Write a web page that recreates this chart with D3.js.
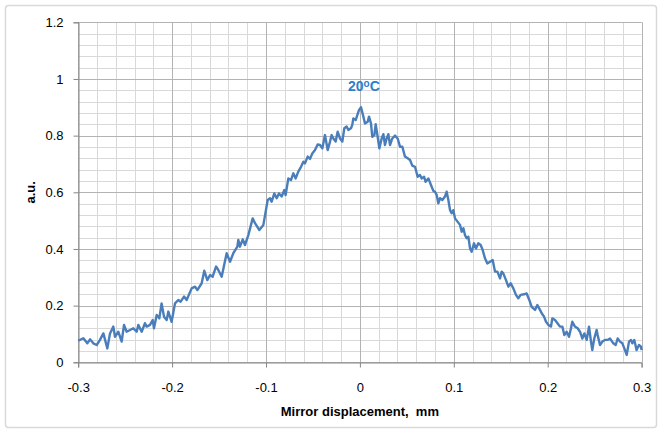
<!DOCTYPE html>
<html>
<head>
<meta charset="utf-8">
<script src="https://cdn.jsdelivr.net/npm/d3@7"></script>
<style>
  body { margin: 0; background: #fff; }
  text { font-family: "Liberation Sans", Arial, sans-serif; }
</style>
</head>
<body>
<div id="container"></div>
<script>
// tick labels
var xTicks = [-0.3, -0.2, -0.1, 0, 0.1, 0.2, 0.3];
var yTicks = [0, 0.2, 0.4, 0.6, 0.8, 1, 1.2];

// mirror displacement (mm)
var displacement = [
  -0.300, -0.2945, -0.2903, -0.2874, -0.2839, -0.2803, -0.2768, -0.2732, -0.2715, -0.2690,
  -0.2661, -0.2626, -0.2608, -0.2573, -0.2537, -0.2512, -0.2484, -0.2448, -0.2413, -0.2377,
  -0.2360, -0.2324, -0.2289, -0.2271, -0.2235, -0.2207, -0.2193, -0.2164, -0.2136, -0.2112,
  -0.2086, -0.2058, -0.2040, -0.2005,
  -0.1969, -0.1934, -0.1909, -0.1873, -0.1845, -0.1792, -0.1756, -0.1731, -0.1685, -0.1657,
  -0.1625, -0.1596, -0.1568, -0.1532, -0.1508, -0.1472, -0.1419, -0.1383, -0.1348, -0.1305,
  -0.1295, -0.1277, -0.1248, -0.1224, -0.1188, -0.1142, -0.1117, -0.1071, -0.1028,
  -0.0982, -0.0957, -0.0940, -0.0911, -0.0886, -0.0862, -0.0833, -0.0805, -0.0791, -0.0762,
  -0.0734, -0.0709, -0.0684, -0.0656, -0.0627, -0.0602, -0.0585, -0.0556, -0.0531, -0.0507,
  -0.0478, -0.0450, -0.0425, -0.0400, -0.0372, -0.0343, -0.0318, -0.0301, -0.0283, -0.0258,
  -0.0237, -0.0212, -0.0187, -0.0166, -0.0141, -0.0123, -0.0095, -0.0081, -0.0070, -0.0045,
  -0.0010, 0.0012, 0.0037, 0.0054, 0.0083, 0.0097, 0.0118, 0.0132, 0.0154, 0.0168,
  0.0189, 0.0207, 0.0232, 0.0250, 0.0267, 0.0285, 0.0303, 0.0321, 0.0345, 0.0374,
  0.0402, 0.0427, 0.0452, 0.0480, 0.0509, 0.0534, 0.0558, 0.0587, 0.0615, 0.0640,
  0.0658, 0.0683, 0.0700, 0.0729, 0.0757, 0.0782, 0.0800, 0.0818, 0.0835, 0.0853,
  0.0878, 0.0906, 0.0924, 0.0942, 0.0960, 0.0977, 0.0995, 0.1013,
  0.1066, 0.1084, 0.1102, 0.1119, 0.1137, 0.1155, 0.1173, 0.1190, 0.1215, 0.1236,
  0.1261, 0.1286, 0.1307, 0.1332, 0.1357, 0.1386, 0.1414, 0.1439, 0.1464, 0.1492,
  0.1510, 0.1527, 0.1556, 0.1581, 0.1606, 0.1634, 0.1662, 0.1687, 0.1712, 0.1748,
  0.1776, 0.1804, 0.1829, 0.1865, 0.1890, 0.1918, 0.1936, 0.1961, 0.1982, 0.2007,
  0.2035, 0.2049, 0.2078, 0.2106, 0.2131, 0.2156, 0.2177, 0.2202, 0.2227, 0.2248,
  0.2262, 0.2290, 0.2319, 0.2344, 0.2369, 0.2390, 0.2415, 0.2440, 0.2461, 0.2475,
  0.2496, 0.2521, 0.2532, 0.2557, 0.2582, 0.2610, 0.2638, 0.2663, 0.2699, 0.2724,
  0.2745, 0.2770, 0.2795, 0.2816, 0.2841, 0.2866, 0.2887, 0.2901, 0.2922, 0.2947,
  0.2972, 0.2993, 0.3000
];

// signal (a.u.)
var signal = [
  0.076, 0.085, 0.067, 0.081, 0.067, 0.061, 0.079, 0.102, 0.081, 0.049,
  0.102, 0.126, 0.090, 0.108, 0.073, 0.132, 0.108, 0.114, 0.120, 0.108,
  0.132, 0.108, 0.138, 0.126, 0.132, 0.149, 0.120, 0.167, 0.155, 0.208,
  0.161, 0.149, 0.179, 0.143,
  0.208, 0.220, 0.214, 0.232, 0.220, 0.261, 0.267, 0.255, 0.279, 0.323,
  0.290, 0.308, 0.302, 0.338, 0.326, 0.302, 0.385, 0.355, 0.385, 0.408,
  0.432, 0.408, 0.434, 0.414, 0.449, 0.508, 0.491, 0.467, 0.485,
  0.573, 0.579, 0.567, 0.596, 0.579, 0.596, 0.585, 0.608, 0.590, 0.649,
  0.643, 0.667, 0.649, 0.673, 0.690, 0.708, 0.702, 0.726, 0.718, 0.737,
  0.749, 0.769, 0.767, 0.755, 0.802, 0.749, 0.779, 0.802, 0.790, 0.779,
  0.814, 0.790, 0.779, 0.826, 0.832, 0.820, 0.826, 0.838, 0.861, 0.855,
  0.890, 0.900, 0.867, 0.843, 0.849, 0.867, 0.843, 0.796, 0.802, 0.840,
  0.796, 0.755, 0.790, 0.805, 0.767, 0.790, 0.805, 0.767, 0.790, 0.800,
  0.790, 0.761, 0.761, 0.726, 0.720, 0.714, 0.694, 0.690, 0.655, 0.661,
  0.649, 0.655, 0.637, 0.649, 0.626, 0.605, 0.602, 0.590, 0.561, 0.579,
  0.573, 0.585, 0.602, 0.573, 0.537, 0.526, 0.537, 0.508,
  0.485, 0.461, 0.473, 0.449, 0.438, 0.443, 0.402, 0.390, 0.420, 0.402,
  0.420, 0.414, 0.397, 0.367, 0.349, 0.355, 0.361, 0.320, 0.320, 0.296,
  0.320, 0.314, 0.290, 0.267, 0.279, 0.261, 0.238, 0.226, 0.238, 0.240,
  0.243, 0.220, 0.196, 0.185, 0.202, 0.185, 0.173, 0.161, 0.143, 0.132,
  0.126, 0.155, 0.149, 0.137, 0.126, 0.126, 0.096, 0.108, 0.090, 0.120,
  0.143, 0.126, 0.120, 0.108, 0.084, 0.102, 0.079, 0.126, 0.073, 0.043,
  0.084, 0.114, 0.096, 0.061, 0.073, 0.079, 0.079, 0.084, 0.067, 0.061,
  0.084, 0.073, 0.067, 0.049, 0.026, 0.073, 0.079, 0.067, 0.079, 0.043,
  0.061, 0.055, 0.043
];

var width = 663, height = 434;

var svg = d3.select("#container").append("svg")
  .attr("width", width)
  .attr("height", height);

// chart frame
svg.append("rect")
  .attr("x", 5.5).attr("y", 5.5)
  .attr("width", 651).attr("height", 422)
  .attr("rx", 3)
  .attr("fill", "#fff")
  .attr("stroke", "#d9d9d9")
  .attr("stroke-width", 1.5);

var x = d3.scaleLinear().domain([-0.3, 0.3]).range([78.2, 641.6]);
var y = d3.scaleLinear().domain([0, 1.2]).range([362.3, 22.3]);

// minor grid
var xMinor = d3.range(-15, 16).map(function (i) { return i * 0.02; });
var yMinor = d3.range(0, 31).map(function (i) { return i * 0.04; });

var grid = svg.append("g");
grid.selectAll(".xm").data(xMinor).enter().append("line")
  .attr("x1", function (d) { return Math.round(x(d)) + 0.5; })
  .attr("x2", function (d) { return Math.round(x(d)) + 0.5; })
  .attr("y1", y(1.2)).attr("y2", y(0))
  .attr("stroke", "#d9d9d9").attr("stroke-width", 1);
grid.selectAll(".ym").data(yMinor).enter().append("line")
  .attr("y1", function (d) { return Math.round(y(d)) + 0.5; })
  .attr("y2", function (d) { return Math.round(y(d)) + 0.5; })
  .attr("x1", x(-0.3)).attr("x2", x(0.3))
  .attr("stroke", "#d9d9d9").attr("stroke-width", 1);

// major grid
grid.selectAll(".xM").data(xTicks).enter().append("line")
  .attr("x1", function (d) { return Math.round(x(d)) + 0.5; })
  .attr("x2", function (d) { return Math.round(x(d)) + 0.5; })
  .attr("y1", y(1.2)).attr("y2", y(0))
  .attr("stroke", "#b3b3b3").attr("stroke-width", 1);
grid.selectAll(".yM").data(yTicks).enter().append("line")
  .attr("y1", function (d) { return Math.round(y(d)) + 0.5; })
  .attr("y2", function (d) { return Math.round(y(d)) + 0.5; })
  .attr("x1", x(-0.3)).attr("x2", x(0.3))
  .attr("stroke", "#b3b3b3").attr("stroke-width", 1);

// axes
var xAxis = d3.axisBottom(x).tickValues(xTicks).tickSize(5).tickPadding(15)
  .tickFormat(function (d) { return String(+d.toFixed(1)); });
var yAxis = d3.axisLeft(y).tickValues(yTicks).tickSize(5).tickPadding(10)
  .tickFormat(function (d) { return String(+d.toFixed(1)); });

var gx = svg.append("g")
  .attr("transform", "translate(0," + (Math.round(y(0)) + 0.5) + ")")
  .call(xAxis);
var gy = svg.append("g")
  .attr("transform", "translate(" + (Math.round(x(-0.3)) + 0.5) + ",0)")
  .call(yAxis);

[gx, gy].forEach(function (g) {
  g.select(".domain").attr("stroke", "#868686");
  g.selectAll(".tick line").attr("stroke", "#868686");
  g.selectAll(".tick text")
    .attr("fill", "#000")
    .style("font-size", "13px");
});

// axis titles
svg.append("text")
  .attr("x", x(0))
  .attr("y", 416)
  .attr("text-anchor", "middle")
  .style("font-size", "13px")
  .style("font-weight", "bold")
  .attr("xml:space", "preserve")
  .text("Mirror displacement,  mm");

svg.append("text")
  .attr("transform", "translate(35," + y(0.6) + ") rotate(-90)")
  .attr("text-anchor", "middle")
  .style("font-size", "13px")
  .style("font-weight", "bold")
  .text("a.u.");

// curve
var line = d3.line()
  .x(function (d) { return x(d[0]); })
  .y(function (d) { return y(d[1]); });

svg.append("path")
  .datum(d3.zip(displacement, signal))
  .attr("d", line)
  .attr("fill", "none")
  .attr("stroke", "#4a7ebb")
  .attr("stroke-width", 2.4)
  .attr("stroke-linejoin", "round");

// annotation
var ann = svg.append("text")
  .attr("x", x(0) + 4)
  .attr("y", 91)
  .attr("text-anchor", "middle")
  .attr("fill", "#2e7fc8")
  .style("font-size", "14px")
  .style("font-weight", "bold");
ann.append("tspan").text("20");
ann.append("tspan").attr("dy", -4).style("font-size", "10px").text("o");
ann.append("tspan").attr("dy", 4).text("C");
</script>
</body>
</html>
